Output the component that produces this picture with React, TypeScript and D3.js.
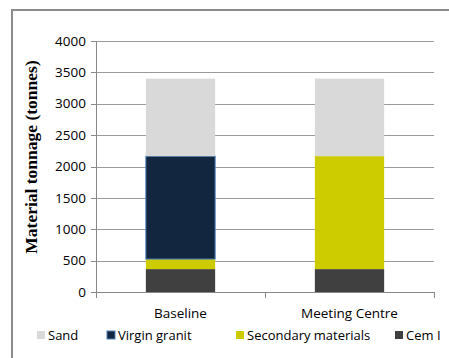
import * as d3 from "d3";

const categories = ["Baseline", "Meeting Centre"];
const seriesNames = ["Cem I", "Secondary materials", "Virgin granit", "Sand"];
const cemI = [365, 365];
const secondary = [160, 1800];
const virginGranit = [1640, 0];
const sand = [1235, 1235];
const legendOrder = ["Sand", "Virgin granit", "Secondary materials", "Cem I"];
const yTicks = [0, 500, 1000, 1500, 2000, 2500, 3000, 3500, 4000];

const COLORS: Record<string, string> = {
  Sand: "#d9d9d9",
  "Virgin granit": "#12263f",
  "Secondary materials": "#cccc00",
  "Cem I": "#404040",
};

const W = 449;
const H = 358;
const left = 96;
const right = 434;
const top = 41;
const bottom = 292;
const tickFont = "'Open Sans', sans-serif";

export default function App() {
  const rows = categories.map((c, i) => ({
    category: c,
    "Cem I": cemI[i],
    "Secondary materials": secondary[i],
    "Virgin granit": virginGranit[i],
    Sand: sand[i],
  }));

  const stack = d3.stack<any>().keys(seriesNames);
  const layers = stack(rows);

  const x = d3.scaleBand().domain(categories).range([left, right]).paddingInner(0.59).paddingOuter(0.295);
  const y = d3.scaleLinear().domain([0, 4000]).range([bottom, top]);

  // legend item positions (square left edges)
  const legendX = d3.scaleOrdinal<string, number>().domain(legendOrder).range([37, 107, 236, 395]);

  return (
    <svg width={W} height={H} style={{ position: "fixed", left: 0, top: 0, background: "#fff" }}>
      <rect x={0} y={0} width={W} height={H} fill="#fff" />
      {/* frame */}
      <path d={`M12,${H} V10 H${W}`} fill="none" stroke="#8c8c8c" strokeWidth={2} />

      {/* gridlines */}
      {yTicks.filter((t) => t > 0).map((t) => (
        <line key={t} x1={left} x2={right} y1={Math.round(y(t)) + 0.5} y2={Math.round(y(t)) + 0.5} stroke="#9a9a9a" strokeWidth={1} />
      ))}

      {/* bars */}
      {layers.map((layer) =>
        layer.map((d, i) => {
          const h = y(d[0]) - y(d[1]);
          if (h <= 0) return null;
          const isGranit = layer.key === "Virgin granit";
          return (
            <rect
              key={layer.key + i}
              x={x(categories[i])}
              y={y(d[1])}
              width={x.bandwidth()}
              height={h}
              fill={COLORS[layer.key]}
              stroke={isGranit ? "#4f81bd" : "none"}
              strokeWidth={isGranit ? 1 : 0}
            />
          );
        })
      )}

      {/* y axis */}
      <line x1={left + 0.5} x2={left + 0.5} y1={top} y2={bottom} stroke="#888" />
      {yTicks.map((t) => (
        <g key={t}>
          <line x1={left - 5} x2={left} y1={Math.round(y(t)) + 0.5} y2={Math.round(y(t)) + 0.5} stroke="#888" />
          <text x={left - 10} y={y(t)} dy="0.35em" textAnchor="end" fontFamily={tickFont} fontSize={13.5} fill="#000">
            {t}
          </text>
        </g>
      ))}

      {/* x axis */}
      <line x1={left} x2={right + 1} y1={bottom + 0.5} y2={bottom + 0.5} stroke="#888" />
      {[left, (left + right) / 2, right].map((tx) => (
        <line key={tx} x1={Math.round(tx) + 0.5} x2={Math.round(tx) + 0.5} y1={bottom} y2={bottom + 6} stroke="#888" />
      ))}
      {categories.map((c) => (
        <text key={c} x={(x(c) ?? 0) + x.bandwidth() / 2} y={318} textAnchor="middle" fontFamily={tickFont} fontSize={13.5} fill="#000">
          {c}
        </text>
      ))}

      {/* y title */}
      <text
        transform="translate(37,157) rotate(-90)"
        textAnchor="middle"
        fontFamily="'Liberation Serif', serif"
        fontWeight="bold"
        fontSize={17.5}
        fill="#000"
      >
        Material tonnage (tonnes)
      </text>

      {/* legend */}
      {legendOrder.map((k) => (
        <g key={k}>
          <rect x={legendX(k)} y={331} width={8} height={8} fill={COLORS[k]} stroke={k === "Virgin granit" ? "#4f81bd" : "none"} />
          <text x={legendX(k) + 11} y={340} fontFamily={tickFont} fontSize={13} fill="#000">
            {k}
          </text>
        </g>
      ))}
    </svg>
  );
}
